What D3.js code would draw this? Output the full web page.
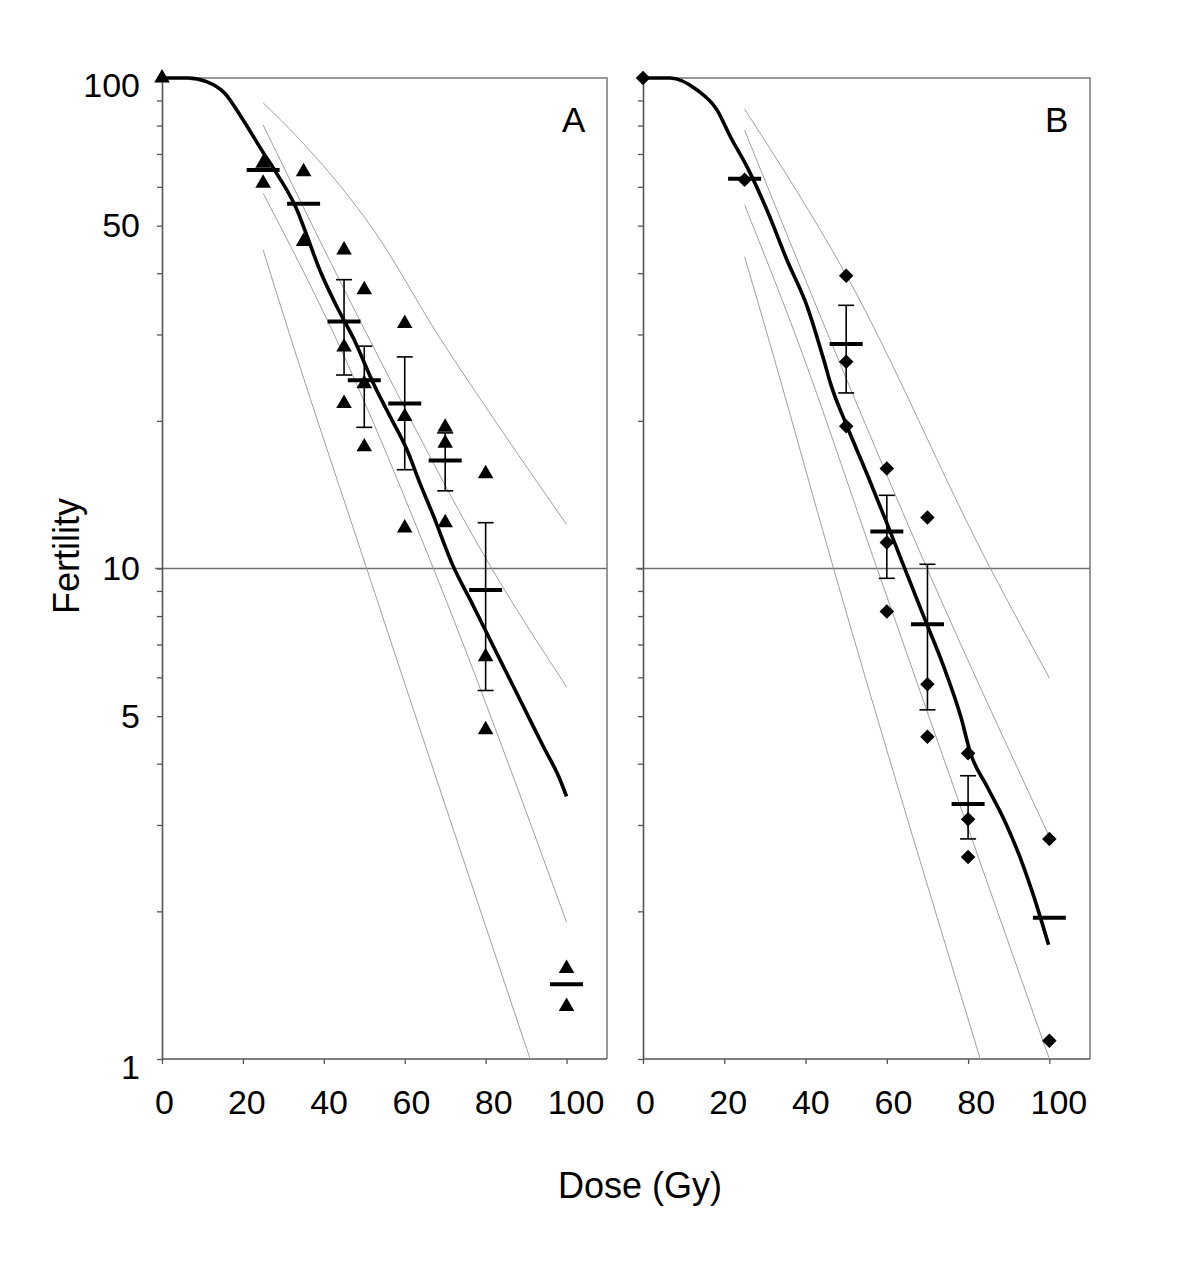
<!DOCTYPE html>
<html>
<head>
  <meta charset="utf-8">
  <title>Fertility vs dose</title>
  <script src="https://d3js.org/d3.v7.min.js"></script>
  <style>
    body { margin: 0; background: #fff; }
    svg text { font-family: Arial, "Liberation Sans", sans-serif; fill: #000; }
  </style>
</head>
<body>
<div id="chart"></div>
<script type="text/javascript">

  // ---- data (dose in Gy, fertility in %) ----
  var xTicks = [0, 20, 40, 60, 80, 100];
  var yTicks = [1, 2, 3, 4, 5, 6, 7, 8, 9, 10, 20, 30, 40, 50, 60, 70, 80, 90, 100];
  var yLabels = [1, 5, 10, 50, 100];

  // panel A
  var curveA = [[0,100],[6.4,100],[11,98.3],[15.5,93.1],[19.5,83.5],[25,70.5],[28.3,64],[33.3,54],
                [35.5,48.5],[39,40.6],[43.2,34.2],[47.3,29.5],[52.2,23.9],[56.4,20.4],[60.5,17.5],
                [63.8,14.9],[67.1,12.8],[72,10.1],[76.2,8.63],[80.3,7.38],[84.4,6.31],[88.5,5.4],
                [91.8,4.76],[94.3,4.33],[98.4,3.71],[100,3.43]];
  var pointsA = [[0,100],[25,67],[25,61],[35,64.4],[35,46.4],[45,44.6],[45,28.3],[45,21.7],
                 [50,37],[50,23.8],[50,17.7],[60,31.6],[60,20.4],[60,12.1],[70,19.4],[70,18],
                 [70,12.4],[80,15.6],[80,6.61],[80,4.69],[100,1.53],[100,1.28]];
  // [dose, mean, low, high]
  var meansA = [[25,64.9,null,null],[35,55.4,null,null],[45,31.9,24.8,38.8],[50,24.2,19.4,28.4],
                [60,21.7,15.9,27],[70,16.6,14.4,18.9],[80,9.04,5.64,12.4],[100,1.42,null,null]];
  var bandA1 = [[25,89],[35.7,72.4],[52.3,49],[68.7,29.5],[84,19.1],[100,12.3]];
  var bandA2 = [[25,80.2],[51.4,29.2],[81.5,10],[100,5.74]];
  var bandA3 = [[25,58.2],[43.2,29.2],[67.1,10],[100,1.9]];
  var bandA4 = [[25,44.6],[32,29.2],[50.6,10],[63,4.91],[91,1]];

  // panel B
  var curveB = [[0,100],[6.7,100],[13.3,94.5],[18.2,86.1],[21.5,75.9],[25.6,65.9],[30.5,53.8],
                [35.4,42.6],[40.4,34.2],[44.5,26.6],[46.1,23.9],[50.2,19.5],[55.1,15.6],[59.3,12.8],
                [64.2,10.1],[69.1,7.98],[74,6.31],[78.2,4.99],[80.6,4.2],[84.7,3.59],[88.9,3.07],
                [93,2.55],[96.2,2.14],[99.8,1.71]];
  var pointsB = [[0,100],[25,62],[50,39.5],[50,26.4],[50,19.5],[60,16],[60,11.3],[60,8.17],
                 [70,12.7],[70,5.81],[70,4.54],[80,4.2],[80,3.08],[80,2.58],[100,2.81],[100,1.09]];
  var meansB = [[25,62.3,null,null],[50,28.7,22.8,34.4],[60,11.9,9.55,14.1],[70,7.7,5.15,10.2],
                [80,3.31,2.81,3.78],[100,1.94,null,null]];
  var bandB1 = [[25,86.4],[50.2,39.4],[85.5,10],[100,5.98]];
  var bandB2 = [[25,78.3],[46.1,29.2],[69.9,10],[100,2.84]];
  var bandB3 = [[25,55.1],[38,29.2],[57.6,10],[100,1]];
  var bandB4 = [[25,43.2],[31,29.2],[46.9,10],[83,1]];

  // ---- layout ----
  var width = 1200, height = 1262;
  var plotTop = 78, plotBottom = 1059;
  var fontSize = 34;

  var svg = d3.select('#chart')
              .append('svg')
                .attr('width', width)
                .attr('height', height);

  svg.append('rect')
     .attr('width', width)
     .attr('height', height)
     .attr('fill', '#fff');

  var y = d3.scaleLog().domain([1, 100]).range([plotBottom, plotTop]);

  function drawPanel(opts) {
    var x = d3.scaleLinear().domain([0, 110]).range([opts.left, opts.right]);
    var g = svg.append('g');

    // frame (top and right)
    g.append('path')
     .attr('d', 'M' + opts.left + ',' + plotTop + 'H' + opts.right + 'V' + plotBottom)
     .attr('fill', 'none')
     .attr('stroke', '#999')
     .attr('stroke-width', 2);

    // gridline at 10
    g.append('line')
     .attr('x1', opts.left - 7).attr('x2', opts.right)
     .attr('y1', y(10)).attr('y2', y(10))
     .attr('stroke', '#707070')
     .attr('stroke-width', 1.3);

    // y axis
    var yAxis = d3.axisLeft(y)
                  .tickValues(yTicks)
                  .tickSize(5)
                  .tickSizeOuter(0)
                  .tickPadding(17)
                  .tickFormat(function(d) {
                    return (opts.labels && yLabels.indexOf(d) >= 0) ? d : '';
                  });
    var ya = g.append('g')
              .attr('transform', 'translate(' + opts.left + ',0)')
              .call(yAxis);
    ya.select('.domain').attr('stroke', '#555').attr('stroke-width', 1.6);
    ya.selectAll('.tick line').attr('stroke', '#555').attr('stroke-width', 1.3);
    ya.selectAll('.tick text')
      .style('font-size', fontSize + 'px')
      .attr('dy', function(d) { return d === 100 ? '0.53em' : (d === 1 ? '0.58em' : '0.32em'); });

    // x axis
    var xAxis = d3.axisBottom(x)
                  .tickValues(xTicks)
                  .tickSize(5)
                  .tickSizeOuter(0)
                  .tickPadding(26);
    var xa = g.append('g')
              .attr('transform', 'translate(0,' + plotBottom + ')')
              .call(xAxis);
    xa.select('.domain').attr('stroke', '#555').attr('stroke-width', 1.6)
      .attr('d', 'M' + opts.left + ',0H' + opts.right);
    xa.selectAll('.tick line').attr('stroke', '#555').attr('stroke-width', 1.3);
    xa.selectAll('.tick text')
      .style('font-size', fontSize + 'px')
      .attr('dx', function(d, i) { return 2 + i * 1.4; });

    var line = d3.line()
                 .x(function(d) { return x(d[0]); })
                 .y(function(d) { return y(d[1]); })
                 .curve(d3.curveMonotoneX);

    // thin band lines
    g.selectAll('path.band')
     .data(opts.bands)
     .enter().append('path')
       .attr('class', 'band')
       .attr('d', line)
       .attr('fill', 'none')
       .attr('stroke', '#a0a0a0')
       .attr('stroke-width', 1);

    // main curve
    g.append('path')
     .datum(opts.curve)
     .attr('d', line)
     .attr('fill', 'none')
     .attr('stroke', '#000')
     .attr('stroke-width', 3.6)
     .attr('stroke-linejoin', 'round');

    // markers
    var sym = d3.symbol().type(opts.symbol).size(opts.symbolSize);
    g.selectAll('path.pt')
     .data(opts.points)
     .enter().append('path')
       .attr('class', 'pt')
       .attr('d', sym)
       .attr('transform', function(d) {
         return 'translate(' + x(d[0]) + ',' + y(d[1]) + ')' + (opts.rotate ? ' rotate(45)' : '');
       })
       .attr('fill', '#000');

    // error bars
    var eb = opts.means.filter(function(d) { return d[2] !== null; });
    g.selectAll('line.err')
     .data(eb)
     .enter().append('line')
       .attr('class', 'err')
       .attr('x1', function(d) { return x(d[0]); })
       .attr('x2', function(d) { return x(d[0]); })
       .attr('y1', function(d) { return y(d[2]); })
       .attr('y2', function(d) { return y(d[3]); })
       .attr('stroke', '#000')
       .attr('stroke-width', 1.6);
    [2, 3].forEach(function(k) {
      g.selectAll('line.cap' + k)
       .data(eb)
       .enter().append('line')
         .attr('class', 'cap' + k)
         .attr('x1', function(d) { return x(d[0]) - 8; })
         .attr('x2', function(d) { return x(d[0]) + 8; })
         .attr('y1', function(d) { return y(d[k]); })
         .attr('y2', function(d) { return y(d[k]); })
         .attr('stroke', '#000')
         .attr('stroke-width', 1.6);
    });

    // mean bars
    g.selectAll('line.mean')
     .data(opts.means)
     .enter().append('line')
       .attr('class', 'mean')
       .attr('x1', function(d) { return x(d[0]) - 16.5; })
       .attr('x2', function(d) { return x(d[0]) + 16.5; })
       .attr('y1', function(d) { return y(d[1]); })
       .attr('y2', function(d) { return y(d[1]); })
       .attr('stroke', '#000')
       .attr('stroke-width', 4);

    // panel letter
    g.append('text')
     .attr('x', opts.right - 45)
     .attr('y', 132)
     .style('font-size', '35px')
     .text(opts.letter);
  }

  drawPanel({
    left: 162, right: 607, labels: true, letter: 'A',
    curve: curveA, points: pointsA, means: meansA,
    bands: [bandA1, bandA2, bandA3, bandA4],
    symbol: d3.symbolTriangle, symbolSize: 105, rotate: false
  });

  drawPanel({
    left: 643, right: 1090, labels: false, letter: 'B',
    curve: curveB, points: pointsB, means: meansB,
    bands: [bandB1, bandB2, bandB3, bandB4],
    symbol: d3.symbolSquare, symbolSize: 105, rotate: true
  });

  // axis titles
  svg.append('text')
     .attr('transform', 'translate(79,556) rotate(-90)')
     .attr('text-anchor', 'middle')
     .style('font-size', '36px')
     .text('Fertility');

  svg.append('text')
     .attr('x', 640)
     .attr('y', 1198)
     .attr('text-anchor', 'middle')
     .style('font-size', '36px')
     .text('Dose (Gy)');

</script>
</body>
</html>
